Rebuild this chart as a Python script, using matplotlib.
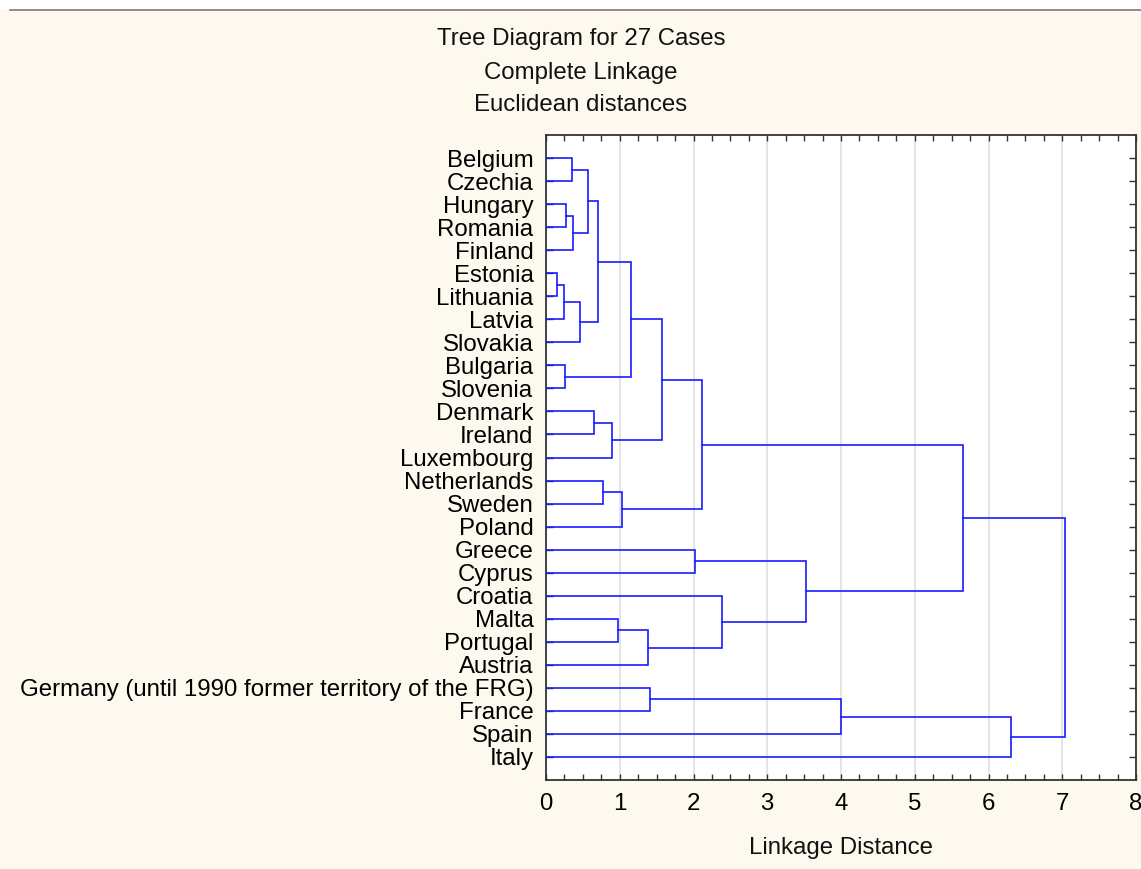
import matplotlib
matplotlib.use("Agg")
import matplotlib.pyplot as plt
from matplotlib.ticker import MultipleLocator
from matplotlib.lines import Line2D

countries = ["Belgium", "Czechia", "Hungary", "Romania", "Finland", "Estonia",
             "Lithuania", "Latvia", "Slovakia", "Bulgaria", "Slovenia", "Denmark",
             "Ireland", "Luxembourg", "Netherlands", "Sweden", "Poland", "Greece",
             "Cyprus", "Croatia", "Malta", "Portugal", "Austria",
             "Germany (until 1990 former territory of the FRG)", "France", "Spain", "Italy"]

GER = "Germany (until 1990 former territory of the FRG)"
# merges: children are country names or "m<k>" for earlier merge k
merge_left = ["Belgium", "Hungary", "m1", "m0", "Estonia", "m4", "m5", "m3",
              "Bulgaria", "m7", "Denmark", "m10", "m9", "Netherlands", "m13",
              "m12", "Greece", "Malta", "m17", "Croatia", "m16", "m15",
              GER, "m22", "m23", "m21"]
merge_right = ["Czechia", "Romania", "Finland", "m2", "Lithuania", "Latvia",
               "Slovakia", "m6", "Slovenia", "m8", "Ireland", "Luxembourg",
               "m11", "Sweden", "Poland", "m14", "Cyprus", "Portugal", "Austria",
               "m18", "m19", "m20", "France", "Spain", "Italy", "m24"]
merge_height = [0.35, 0.27, 0.37, 0.57, 0.15, 0.24, 0.46, 0.71, 0.26, 1.15,
                0.65, 0.89, 1.57, 0.77, 1.03, 2.11, 2.02, 0.97, 1.38, 2.39,
                3.52, 5.65, 1.41, 4.00, 6.31, 7.04]

x_ticks = [0, 1, 2, 3, 4, 5, 6, 7, 8]
title_lines = ["Tree Diagram for 27 Cases", "Complete Linkage", "Euclidean distances"]

W, H = 1141, 869
cream = "#FEF9EE"
FS = 17.3
fig = plt.figure(figsize=(W / 100, H / 100), dpi=100, facecolor=cream)
plt.rcParams['font.family'] = ['Liberation Sans', 'DejaVu Sans']

# top white strip with gray line (window edge)
fig.patches.append(plt.Rectangle((0, 1 - 9 / H), 1, 9 / H, transform=fig.transFigure,
                                 facecolor="white", edgecolor="none", zorder=0))
fig.add_artist(Line2D([10 / W, 1], [1 - 10 / H, 1 - 10 / H], transform=fig.transFigure,
                      color="#7a7a7a", lw=1.2))

left, right, top, bottom = 546, 1136, 135, 780
ax = fig.add_axes([left / W, 1 - bottom / H, (right - left) / W, (bottom - top) / H])
ax.set_facecolor("white")

pos = {name: (i, 0.0) for i, name in enumerate(countries)}
for k, (l, r, h) in enumerate(zip(merge_left, merge_right, merge_height)):
    yl, xl = pos[l]
    yr, xr = pos[r]
    ax.plot([xl, h, h, xr], [yl, yl, yr, yr], color="#1a1aff", lw=1.2, zorder=3,
            solid_joinstyle="miter")
    pos["m%d" % k] = ((yl + yr) / 2, h)

ax.set_xlim(0, 8)
ax.set_ylim(len(countries), -1)
ax.set_xticks(x_ticks)
ax.set_xticklabels([str(t) for t in x_ticks], fontsize=FS)
ax.xaxis.set_minor_locator(MultipleLocator(0.25))
ax.set_yticks(range(len(countries)))
ax.set_yticklabels(countries, fontsize=FS)
ax.tick_params(axis="both", which="both", direction="in", top=True, right=True,
               color="#333333", width=1.0)
ax.tick_params(axis="x", which="both", length=4, pad=9)
ax.tick_params(axis="y", which="major", length=5, pad=9)
ax.grid(axis="x", which="major", color="#e0e0e0", lw=1.2, zorder=0)
ax.set_axisbelow(True)
for s in ax.spines.values():
    s.set_color("#333333")
    s.set_linewidth(1.3)

cx = 581 / W
for txt, y in zip(title_lines, [39, 73, 105]):
    fig.text(cx, 1 - y / H, txt, ha="center", va="center", fontsize=FS, color="#111111")
fig.text((left + right) / 2 / W, 1 - 848 / H, "Linkage Distance", ha="center", va="center",
         fontsize=FS, color="#111111")

fig.savefig("out.png", dpi=100, facecolor=cream)
